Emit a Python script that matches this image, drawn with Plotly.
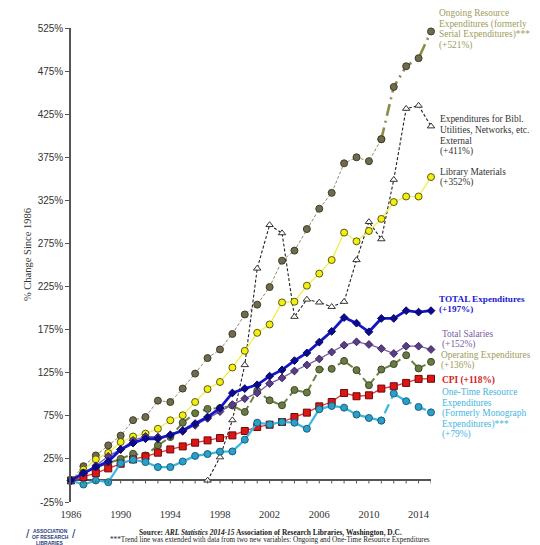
import plotly.graph_objects as go

# ---------------- data (percent change since 1986) ----------------
years = list(range(1986, 2016))
years_to_2011 = list(range(1986, 2012))
ext_years = [2011, 2012, 2013, 2014, 2015]
bibl_years = list(range(1997, 2016))

serial_expenditures = [0, 16.5, 29, 40.7, 52, 70, 73.6, 92.6, 91, 106.6, 124, 142, 152, 170,
                       192.6, 204, 224.4, 255, 266.7, 291.7, 315.3, 333.7, 368, 375, 370.5, 396]
ongoing_resource_ext = [396, 456.6, 480.6, 490, 521]

bibl_utilities = [0, 27, 70, 134, 246, 296.5, 287, 190, 210, 206.6, 201.5, 207.4, 255.8,
                  300, 280, 349, 431.4, 435, 411]

library_materials = [0, 12.5, 24.5, 32, 44.6, 51, 54.3, 60, 69.8, 75.6, 91, 106, 114.3, 131,
                     150.4, 171.3, 181, 206.6, 207.4, 226, 240, 255.8, 287.6, 277.5, 289.5,
                     303.5, 323, 329.5, 329.5, 352]

total_expenditures = [0, 8.5, 15.5, 22, 36, 43.4, 48.4, 48.4, 53, 58, 66, 73.6, 84, 101.5,
                      106.6, 111, 121, 128.3, 139, 148, 160.5, 173, 189, 182.5, 172.5, 188,
                      188, 197, 195.3, 197]

total_salaries = [0, 8, 17, 28, 36, 46.5, 51, 50.4, 52, 57, 64, 72, 80, 88, 95, 101.5, 112.4,
                  119, 127, 134, 141, 149, 157, 160.8, 157.8, 153, 147.3, 155.8, 155.8, 152]

operating_expenditures = [0, 9, 15, 20, 25, 31, 29, 40.7, 50.4, 67, 78, 83, 84, 87, 79.5, 104,
                          93, 87.2, 105, 102, 128.7, 129.5, 138.7, 128, 110.5, 128.7, 135,
                          145.3, 130, 137.6]

cpi = [0, 3.9, 8.5, 14, 19.4, 24.4, 27.9, 32.2, 36, 39.5, 43.8, 46.5, 49.2, 52.3, 57.4, 62,
       64.7, 67.8, 73.6, 78.7, 86, 91, 101.5, 97.7, 98.8, 106.6, 109.3, 113.2, 117.8, 118]

monograph_expenditures = [0, -4.7, 0, -2, 20, 24, 21.3, 15.5, 15.5, 22, 28.5, 30.6, 33.4, 33.7,
                          47.3, 67, 65, 67.8, 67, 60, 82.6, 86.4, 84.5, 76.4, 72.5, 69.5]
onetime_resource_ext = [69.5, 100.8, 92, 85.3, 79]

x_tick_labels = [1986, 1990, 1994, 1998, 2002, 2006, 2010, 2014]
y_tick_values = list(range(-25, 526, 50))
minor_year_ticks = list(range(1987, 2016))

# ---------------- figure ----------------
fig = go.Figure()

def add(x, y, color, width, dash, symbol, msize, mfill, mline, mlw=1):
    fig.add_trace(go.Scatter(
        x=x, y=y, mode="lines+markers", cliponaxis=False, showlegend=False,
        line=dict(color=color, width=width, dash=dash),
        marker=dict(symbol=symbol, size=msize, color=mfill, line=dict(color=mline, width=mlw)),
    ))

# Serial / Ongoing
add(years_to_2011, serial_expenditures, "#8c8a6c", 1, "3px,2px", "circle", 7, "#706b4e", "#3f3c28")
add(ext_years, ongoing_resource_ext, "#8e8a48", 2.6, "12px,5px,2px,5px", "circle", 7, "#706b4e", "#3f3c28")
# Bibl utilities
add(bibl_years, bibl_utilities, "#222222", 1.1, "3px,2px", "triangle-up", 6.5, "white", "#333333")
# Library materials
add(years, library_materials, "#eeee40", 1.2, "solid", "circle", 7, "#f2ee10", "#5e5a10")
# Operating
add(years, operating_expenditures, "#6f8244", 2, "7px,4px", "circle", 7, "#6a7a45", "#3d4a25")
# Salaries
add(years, total_salaries, "#7b5ea7", 1.3, "solid", "diamond", 6, "#5a3d85", "#3a2560")
# CPI
add(years, cpi, "#e03535", 1.3, "solid", "square", 7, "#dd1515", "#6a0a0a")
# One-time / monograph
add(years_to_2011, monograph_expenditures, "#3ab8e2", 2.2, "solid", "circle", 7, "#2aa0c8", "#1a5f7f")
add(ext_years, onetime_resource_ext, "#3ab8e2", 2.2, "2px,6px,10px,6px", "circle", 7, "#2aa0c8", "#1a5f7f")
# TOTAL
add(years, total_expenditures, "#1414c8", 2.8, "solid", "diamond", 6, "#0a0a90", "#0a0a60")

# year tick marks on the zero line
shapes = [dict(type="line", xref="x", yref="y", x0=yr, x1=yr, y0=0, y1=-3.5,
               line=dict(color="#555555", width=1)) for yr in minor_year_ticks]

# ---------------- text ----------------
# plot-area edges in screen pixels (the page body adds an 8px offset)
OFF = 8
L, R, T, B = 71, 431, 28, 502
ann = []

def px_text(text, xp, yp, color, size=10, family="Liberation Serif", xanchor="left"):
    ann.append(dict(text=text, x=(xp - L) / (R - L), y=(B - yp) / (B - T), xref="paper", yref="paper",
                    xanchor=xanchor, yanchor="middle", showarrow=False,
                    font=dict(color=color, size=size, family=family)))

def block(lines, xp, y0, step, color, size=9.4, bold=False):
    for i, t in enumerate(lines):
        px_text(f"<b>{t}</b>" if bold else t, xp, y0 + i * step, color, size)

block(["Ongoing Resource", "Expenditures (formerly", "Serial Expenditures)***", "(+521%)"],
      437, 13.5, 10.5, "#a09c5c")
block(["Expenditures for Bibl.", "Utilities, Networks, etc. -", "External", "(+411%)"],
      438, 119.3, 10.8, "#333333")
block(["Library Materials", "(+352%)"], 438, 172.3, 10.6, "#333333")
block(["TOTAL Expenditures", "(+197%)"], 437, 298.5, 10.8, "#1a1ad0", size=9.2, bold=True)
block(["Total Salaries", "(+152%)"], 440, 333.5, 10.8, "#7b5ea7")
block(["Operating Expenditures", "(+136%)"], 439, 355, 10.8, "#a09c5c")
block(["CPI (+118%)"], 440, 380, 10.2, "#d42020", size=9.4, bold=True)
block(["One-Time Resource", "Expenditures", "(Formerly Monograph", "Expenditures)***", "(+79%)"],
      440, 392.3, 10.6, "#45b5e0")

# y axis title
ann.append(dict(text="% Change Since 1986", x=(27 - L) / (R - L), y=(B - 255) / (B - T),
                xref="paper", yref="paper", textangle=-90, showarrow=False,
                xanchor="center", yanchor="middle",
                font=dict(family="Liberation Serif", size=10.5, color="#333333")))

# footer
px_text("<b>Source: <i>ARL Statistics 2014-15</i> Association of Research Libraries, Washington, D.C.</b>",
        270, 532.5, "#222222", 7.4, xanchor="center")
px_text("***Trend line was extended with data from two new variables: Ongoing and One-Time Resource Expenditures",
        270, 540, "#222222", 7.2, xanchor="center")

# logo text
px_text("<b>ASSOCIATION</b>", 50, 531, "#2a3a80", 5, "Liberation Sans", "center")
px_text("<b>OF RESEARCH</b>", 50, 537, "#2a3a80", 5, "Liberation Sans", "center")
px_text("<b>LIBRARIES</b>", 50, 543, "#2a3a80", 5, "Liberation Sans", "center")
px_text("/", 28, 534, "#2a3a80", 12, "Liberation Sans", "center")
px_text("/", 74, 534, "#2a3a80", 12, "Liberation Sans", "center")

fig.update_layout(
    width=540 - OFF, height=545 - OFF,
    margin=dict(l=L - OFF, r=540 - R, t=T - OFF, b=545 - B, pad=0),
    paper_bgcolor="white", plot_bgcolor="white",
    showlegend=False,
    shapes=shapes,
    annotations=ann,
    xaxis=dict(range=[1986, 2015], tickvals=x_tick_labels, ticktext=[str(v) for v in x_tick_labels],
               showline=False, showgrid=False, zeroline=False, ticks="", ticklabelstandoff=4,
               tickfont=dict(family="Liberation Serif", size=10.5, color="#333333")),
    yaxis=dict(range=[-25, 525], tickvals=y_tick_values, ticktext=[f"{v}%" for v in y_tick_values],
               showline=True, linecolor="#555555", linewidth=1.5, ticks="outside", ticklen=4,
               tickcolor="#555555", showgrid=False, zeroline=True, zerolinecolor="#555555",
               zerolinewidth=1.5,
               tickfont=dict(family="Liberation Sans", size=10, color="#333333")),
)

fig.write_html("out.html")
